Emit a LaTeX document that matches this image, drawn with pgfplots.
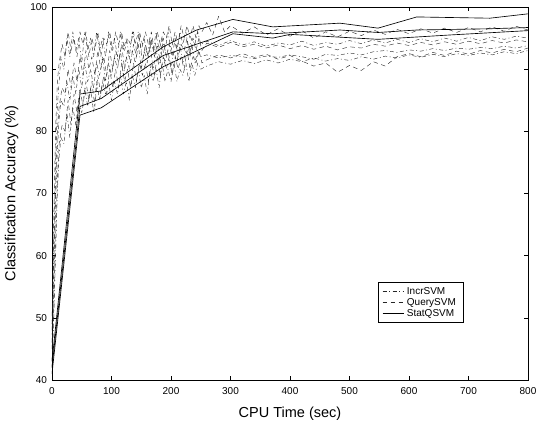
\documentclass[border=0pt]{standalone}
\usepackage{pgfplots}
\pgfplotsset{compat=1.18}
\usepackage{fontspec}
\setmainfont{Liberation Sans}
\usetikzlibrary{calc}
\pgfplotsset{
 incr/.style={black!85, line width=0.42pt, line join=round, dash pattern=on 4bp off 2.5bp on 1bp off 2.5bp},
 query/.style={black!85, line width=0.42pt, line join=round, dash pattern=on 4.5bp off 3.5bp},
 stat/.style={black, line width=0.65pt, solid, line join=round},
}
\begin{document}
\begin{tikzpicture}
\begin{axis}[
 scale only axis, width=476bp, height=373bp,
 xmin=0, xmax=800, ymin=40, ymax=100,
 xtick={0,100,...,800}, ytick={40,50,...,100},
 tick align=inside, major tick length=4bp,
 axis line style={line width=0.6pt},
 every tick/.style={black, line width=0.6pt},
 /pgf/number format/assume math mode=true,
 tick label style={font=\fontsize{10bp}{12bp}\selectfont},
 xticklabel style={yshift=-4bp},
 yticklabel style={xshift=-1.5bp},
 label style={font=\fontsize{14.5bp}{17bp}\selectfont},
 xlabel={CPU Time (sec)},
 ylabel={Classification Accuracy (\%)},
 xlabel style={at={(ticklabel cs:0.5,6bp)}, anchor=near ticklabel},
 ylabel style={at={(ticklabel cs:0.5,5bp)}, anchor=near ticklabel},
 legend style={at={(0.685,0.263)}, anchor=north west, draw=black, line width=0.5pt,
   font=\fontsize{10bp}{12bp}\selectfont, inner xsep=4bp, inner ysep=3bp, row sep=-1.5pt,
   nodes={inner xsep=3bp}},
 legend cell align=left,
 legend image code/.code={\draw[#1] (0bp,0bp) -- (21bp,0bp);},
]
% IncrSVM mean
\addplot[incr] table {
0 45
3 56
6 68
9 77
12 82
15 85
20 84
25 88
30 85
35 89
40 86
45 90
50 87
55 91
60 88
65 90
70 87
75 91
80 89
85 92
90 88
95 91
100 89
105 92
110 90
115 93
120 89
125 92
130 90
135 93
140 91
145 94
150 90
155 93
160 91
165 94
170 90
175 93
180 91
185 94
190 91
195 93
200 90
205 93
210 91
215 94
220 91
225 93
230 92
235 94
240 91
245 93
250 92
260 92.3
280 91.8
300 92.2
320 92.0
340 91.7
360 92.1
380 91.9
400 92.3
420 92.0
440 91.6
460 92.4
480 92.2
500 92.6
520 92.3
540 92.8
560 93.0
580 92.7
600 93.1
620 92.9
640 93.3
660 93.0
680 93.4
700 93.2
720 93.5
740 93.3
760 93.7
780 93.4
800 93.8
};
\addlegendentry{IncrSVM}
% QuerySVM mean
\addplot[query] table {
0 46
3 59
6 71
9 80
12 84
17 87
22 86
27 90
32 87
37 91
42 88
47 92
52 89
57 93
62 90
67 92
72 89
77 93
82 90
87 92
92 89
97 93
102 90
107 93
112 91
117 94
122 90
127 93
132 91
137 94
142 92
147 95
152 91
157 94
162 92
167 95
172 92
177 94
182 91
187 95
192 92
197 94
202 92
207 95
212 92
217 94
222 93
227 95
232 92
237 95
242 93
247 95
252 93
260 94.2
280 93.5
300 94.3
320 93.6
340 94.0
360 93.4
380 93.9
400 93.3
420 93.8
440 93.2
460 93.7
480 93.1
500 93.6
520 93.4
540 94.0
560 93.7
580 94.2
600 93.8
620 94.3
640 93.9
660 94.4
680 94.0
700 94.5
720 94.1
740 94.6
760 94.2
780 94.7
800 94.4
};
\addlegendentry{QuerySVM}
% IncrSVM upper
\addplot[incr, forget plot] table {
0 48
3 62
6 75
9 84
12 88
15 92
20 90
25 95
30 92
35 96
40 93
45 95
50 91
55 96
60 93
65 95
70 92
75 96
80 93
85 95
90 92
95 96
100 93
105 95
110 92
115 96
120 93
125 95
130 92
135 96
140 94
145 96
150 93
155 95
160 92
165 95
170 93
175 96
180 93
185 95
190 93
195 96
200 93
205 95
210 93
215 96
220 94
225 96
230 93
235 95
240 94
245 96
250 94
260 94.5
280 93.8
300 94.6
320 93.9
340 94.4
360 93.7
380 94.2
400 93.9
420 94.5
440 93.8
460 94.3
480 94.0
500 94.6
520 94.1
540 94.7
560 94.2
580 94.8
600 94.3
620 94.9
640 94.4
660 95.0
680 94.5
700 95.1
720 94.6
740 95.2
760 94.8
780 95.3
800 95.0
};
% IncrSVM lower
\addplot[incr, forget plot] table {
0 42
3 50
6 60
9 70
12 76
15 79
20 78
25 83
30 79
35 84
40 81
45 85
50 83
55 87
60 84
65 87
70 83
75 88
80 85
85 88
90 86
95 88
100 85
105 88
110 86
115 89
120 86
125 88
130 85
135 89
140 87
145 90
150 87
155 89
160 86
165 90
170 88
175 90
180 87
185 91
190 88
195 90
200 88
205 91
210 88
215 90
220 89
225 91
230 88
235 91
240 89
245 91
250 90
260 90.5
280 91.2
300 90.8
320 91.4
340 90.9
360 91.5
380 91.0
400 91.6
420 91.2
440 91.8
460 91.3
480 91.7
500 91.4
520 92.0
540 91.6
560 92.1
580 91.8
600 92.3
620 91.9
640 92.4
660 92.0
680 92.5
700 92.2
720 92.6
740 92.3
760 92.8
780 92.5
800 93.0
};
% QuerySVM upper
\addplot[query, forget plot] table {
0 49
3 66
6 80
9 88
12 91
17 94
22 92
27 96
32 93
37 95
42 92
47 96
52 94
57 96
62 92
67 95
72 93
77 96
82 92
87 95
92 94
97 96
102 93
107 96
112 94
117 96
122 93
127 95
132 94
137 96
142 93
147 96
152 94
157 96
162 94
167 96
172 93
177 96
182 94
187 96
192 95
197 97
202 94
207 96
212 94
217 97
222 95
227 97
232 95
237 97
242 95
247 97
252 96
260 97.5
270 95.5
280 98.5
290 96.0
300 97.0
320 95.8
340 96.8
360 95.5
380 96.5
400 95.3
420 96.2
440 95.0
460 96.0
480 95.2
500 96.1
520 95.4
540 96.3
560 95.6
580 96.4
600 95.7
620 96.5
640 95.8
660 96.6
680 95.9
700 96.7
720 96.0
740 96.8
760 96.1
780 96.9
800 96.3
};
% QuerySVM lower
\addplot[query, forget plot] table {
0 43
3 52
6 63
9 72
12 78
17 81
22 80
27 85
32 81
37 86
42 83
47 87
52 84
57 88
62 85
67 88
72 84
77 89
82 86
87 89
92 86
97 90
102 87
107 90
112 87
117 91
122 88
127 90
132 87
137 91
142 88
147 91
152 89
157 91
162 88
167 91
172 89
177 92
182 89
187 92
192 90
197 92
202 89
207 92
212 90
217 92
222 90
227 93
232 90
237 92
242 91
247 93
252 91
260 91.5
280 92.3
300 91.8
320 92.5
340 91.9
360 92.4
380 91.6
400 92.2
420 91.3
440 90.5
460 91.0
480 89.5
500 90.6
520 89.8
540 91.2
560 90.5
580 92.0
600 92.5
620 92.0
640 92.7
660 92.2
680 92.9
700 92.4
720 93.0
740 92.6
760 93.2
780 92.8
800 93.4
};
% StatQSVM mean
\addplot[stat] table {
0 42
47 84
83 85.3
187 92.2
304 96.0
371 95.7
484 96.3
548 95.9
613 96.3
736 96.5
800 96.7
};
\addlegendentry{StatQSVM}
% StatQSVM upper
\addplot[stat, forget plot] table {
0 43
47 86
83 86.5
187 93.6
243 96.3
304 98.0
371 96.8
484 97.4
548 96.6
613 98.4
736 98.2
800 98.9
};
% StatQSVM lower
\addplot[stat, forget plot] table {
0 41
47 82.6
83 83.8
187 90.4
304 95.7
371 95.0
400 95.6
548 94.8
669 95.5
800 96.2
};
\end{axis}
\path ($(current axis.south west)+(-52bp,-45bp)$) rectangle ($(current axis.north east)+(12bp,7bp)$);
\end{tikzpicture}
\end{document}
